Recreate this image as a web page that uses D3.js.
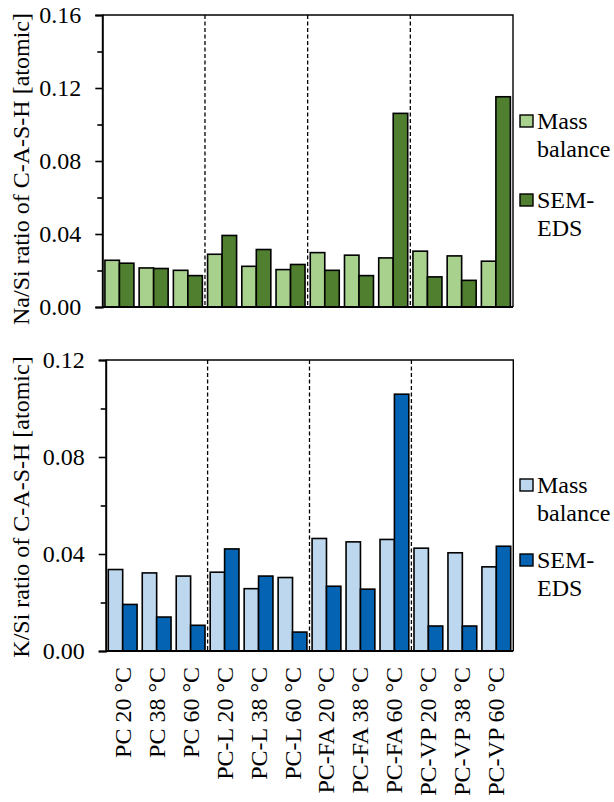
<!DOCTYPE html>
<html>
<head>
<meta charset="utf-8">
<script src="https://cdn.jsdelivr.net/npm/d3@7"></script>
<style>
  html, body { margin: 0; padding: 0; background: #fff; }
  svg { display: block; }
  text { font-family: "Liberation Serif", "Times New Roman", serif; fill: #000; }
</style>
</head>
<body>
<svg id="chart" width="614" height="802"></svg>
<script>
// Mix / curing temperature categories
const categories = [
  "PC 20 °C", "PC 38 °C", "PC 60 °C",
  "PC-L 20 °C", "PC-L 38 °C", "PC-L 60 °C",
  "PC-FA 20 °C", "PC-FA 38 °C", "PC-FA 60 °C",
  "PC-VP 20 °C", "PC-VP 38 °C", "PC-VP 60 °C"
];
const seriesNames = ["Mass balance", "SEM-EDS"];

// Na/Si ratio of C-A-S-H
const naMassBalance = [0.0256, 0.0214, 0.0201, 0.0289, 0.0223, 0.0205, 0.0298, 0.0284, 0.0269, 0.0306, 0.0280, 0.0251];
const naSemEds      = [0.0240, 0.0211, 0.0172, 0.0392, 0.0315, 0.0233, 0.0201, 0.0172, 0.1061, 0.0165, 0.0146, 0.1152];

// K/Si ratio of C-A-S-H
const kMassBalance = [0.0336, 0.0322, 0.0309, 0.0325, 0.0257, 0.0303, 0.0464, 0.0450, 0.0460, 0.0424, 0.0405, 0.0347];
const kSemEds      = [0.0192, 0.0140, 0.0106, 0.0421, 0.0309, 0.0078, 0.0267, 0.0255, 0.1059, 0.0103, 0.0103, 0.0432];

// Axis ticks
const naTicks = [0, 0.04, 0.08, 0.12, 0.16];
const naMinorTicks = [0.02, 0.06, 0.10, 0.14];
const kTicks = [0, 0.04, 0.08, 0.12];
const kMinorTicks = [0.02, 0.06, 0.10];

const svg = d3.select("#chart");
const fmt = d3.format(".2f");
const FONT = 24;

function drawPanel(opt) {
  const { left, right, top, bottom, domainMax, ticks, minorTicks, mass, sem,
          colors, title, titleY, legendY, showXLabels } = opt;
  const g = svg.append("g");

  const x0 = d3.scaleBand().domain(categories).range([left, right]).padding(0);
  const x1 = d3.scaleBand().domain(seriesNames).range([0, x0.bandwidth()])
    .paddingInner(0).paddingOuter(0.18);
  const y = d3.scaleLinear().domain([0, domainMax]).range([bottom, top]);

  const rows = categories.map((c, i) => ({ cat: c, values: [mass[i], sem[i]] }));

  // bars
  g.append("g").selectAll("g")
    .data(rows).join("g")
    .attr("transform", d => `translate(${x0(d.cat)},0)`)
    .selectAll("rect")
    .data(d => d.values.map((v, j) => ({ key: seriesNames[j], v })))
    .join("rect")
    .attr("x", d => x1(d.key))
    .attr("width", x1.bandwidth())
    .attr("y", d => y(d.v))
    .attr("height", d => y(0) - y(d.v))
    .attr("fill", d => colors[d.key])
    .attr("stroke", "#000")
    .attr("stroke-width", 1.6);

  // dashed separators between mix groups
  [3, 6, 9].forEach(i => {
    const xs = x0(categories[i]);
    g.append("line")
      .attr("x1", xs).attr("x2", xs)
      .attr("y1", top).attr("y2", bottom)
      .attr("stroke", "#000").attr("stroke-width", 1.3)
      .attr("stroke-dasharray", "4,2.5");
  });

  // frame: top and right edges
  g.append("path")
    .attr("d", `M${left},${top}H${right}V${bottom}`)
    .attr("fill", "none").attr("stroke", "#000").attr("stroke-width", 1.4);

  // x baseline
  g.append("line")
    .attr("x1", left).attr("x2", right).attr("y1", y(0)).attr("y2", y(0))
    .attr("stroke", "#000").attr("stroke-width", 2);

  // minor ticks
  const minorAxis = d3.axisLeft(y).tickValues(minorTicks).tickSize(5).tickFormat("");
  const gm = g.append("g").attr("transform", `translate(${left},0)`).call(minorAxis);
  gm.select(".domain").remove();
  gm.selectAll("line").attr("stroke-width", 1.6);

  // major ticks and labels
  const yAxis = d3.axisLeft(y).tickValues(ticks).tickSize(7).tickPadding(14).tickFormat(fmt);
  const ga = g.append("g").attr("transform", `translate(${left},0)`).call(yAxis);
  ga.select(".domain").attr("stroke-width", 2);
  ga.selectAll("line").attr("stroke-width", 1.6);
  ga.selectAll("text")
    .attr("font-family", "Liberation Serif, Times New Roman, serif")
    .attr("font-size", FONT).attr("fill", "#000").attr("dy", "0.33em");

  // y axis title
  g.append("text")
    .attr("transform", `translate(28.5,${titleY}) rotate(-90)`)
    .attr("text-anchor", "middle")
    .attr("font-size", FONT)
    .text(title);

  // category labels
  if (showXLabels) {
    g.append("g").selectAll("text")
      .data(categories).join("text")
      .attr("transform", d => `translate(${x0(d) + x0.bandwidth() / 2 + 8},${bottom + 16}) rotate(-90)`)
      .attr("text-anchor", "end")
      .attr("font-size", FONT)
      .text(d => d);
  }

  // legend
  const lg = g.append("g").attr("transform", `translate(520,${legendY})`);
  const legendRows = [
    { key: "Mass balance", lines: ["Mass", "balance"], dy: 0 },
    { key: "SEM-EDS", lines: ["SEM-", "EDS"], dy: opt.legendGap }
  ];
  legendRows.forEach(r => {
    lg.append("rect")
      .attr("x", 0).attr("y", r.dy - 6)
      .attr("width", 13).attr("height", 12)
      .attr("fill", colors[r.key]).attr("stroke", "#000").attr("stroke-width", 1.4);
    r.lines.forEach((t, k) => {
      lg.append("text")
        .attr("x", 17).attr("y", r.dy + 7.5 + k * 28.5)
        .attr("font-size", FONT)
        .text(t);
    });
  });
}

drawPanel({
  left: 102.3, right: 513, top: 15, bottom: 307,
  domainMax: 0.16, ticks: naTicks, minorTicks: naMinorTicks,
  mass: naMassBalance, sem: naSemEds,
  colors: { "Mass balance": "#a9d18e", "SEM-EDS": "#4f7f2f" },
  title: "Na/Si ratio of C-A-S-H [atomic]", titleY: 169,
  legendY: 121, legendGap: 79, showXLabels: false
});

drawPanel({
  left: 105.7, right: 513.3, top: 360, bottom: 651,
  domainMax: 0.12, ticks: kTicks, minorTicks: kMinorTicks,
  mass: kMassBalance, sem: kSemEds,
  colors: { "Mass balance": "#bdd7ee", "SEM-EDS": "#0563b4" },
  title: "K/Si ratio of C-A-S-H [atomic]", titleY: 507,
  legendY: 485, legendGap: 75, showXLabels: true
});
</script>
</body>
</html>
